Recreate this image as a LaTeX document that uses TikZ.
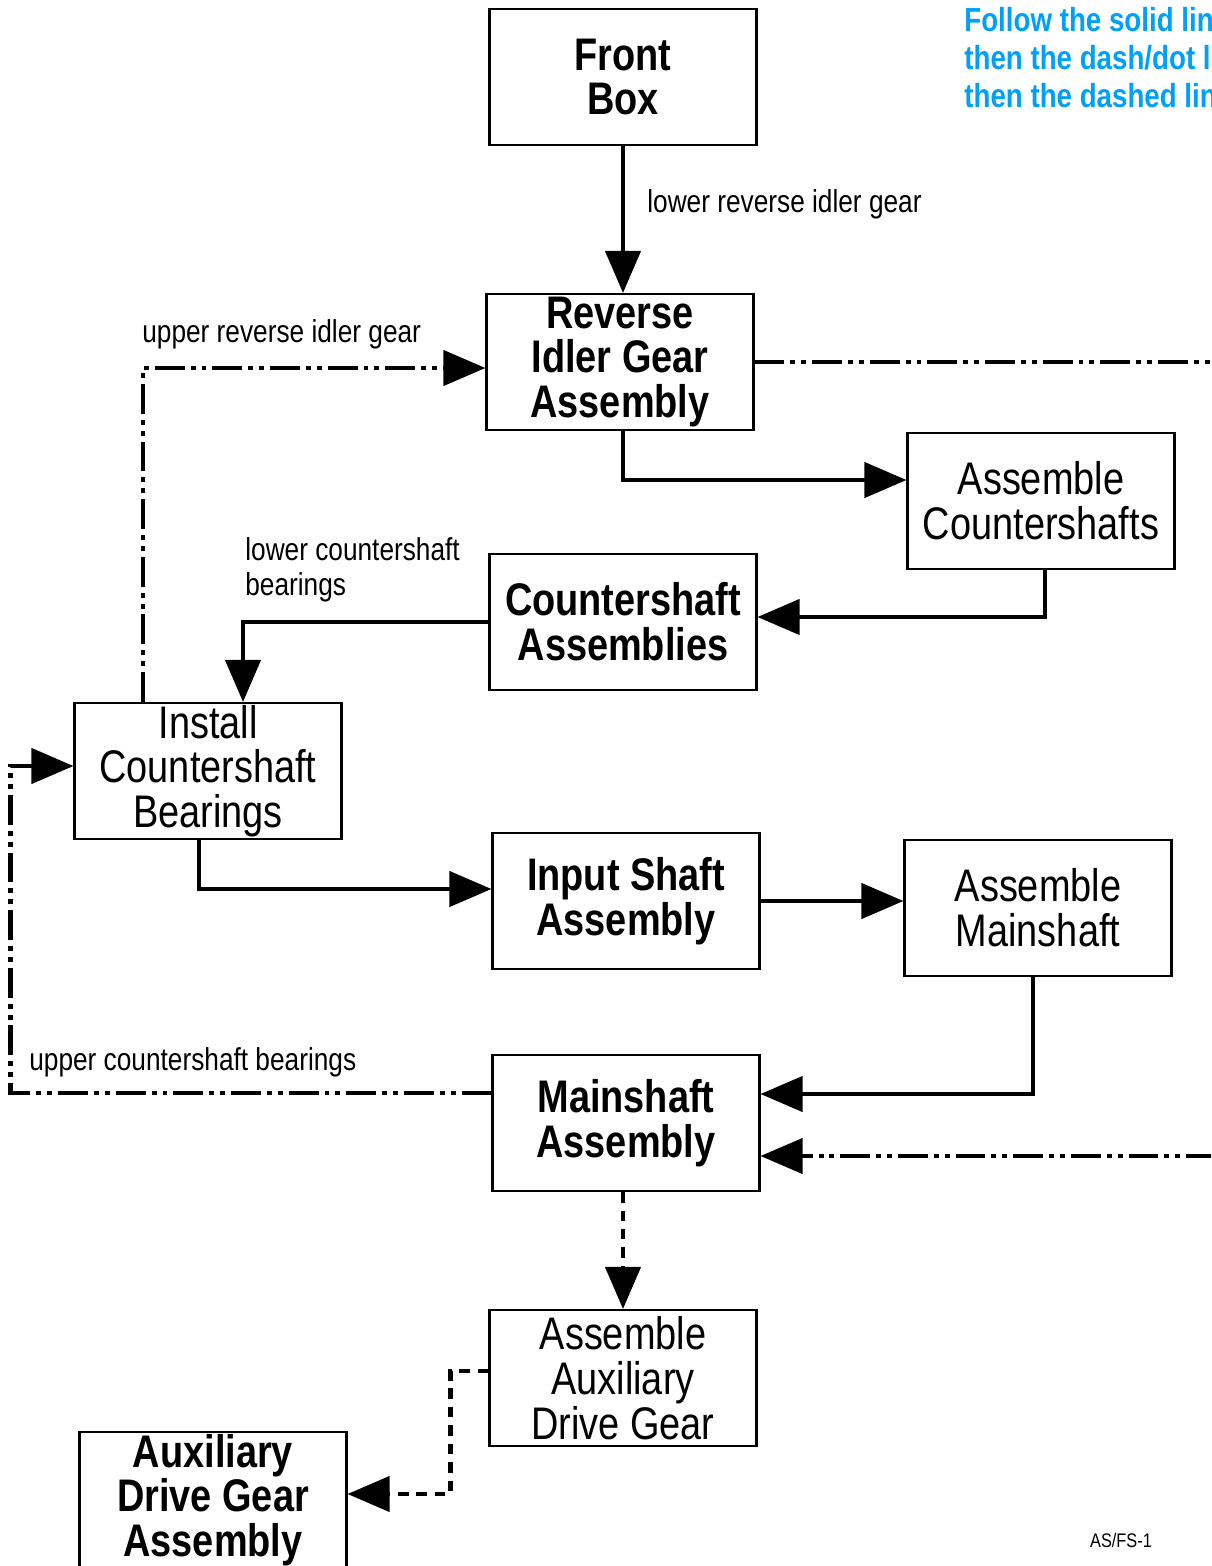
\documentclass[tikz,border=0pt]{standalone}
\usepackage{fontspec}
\setmainfont{Liberation Sans}[FakeStretch=0.83]
\usetikzlibrary{arrows.meta,calc}
\definecolor{notecyan}{RGB}{0,160,248}
\tikzset{
    box/.style={draw,line width=1.2pt,minimum width=5.34cm,minimum height=2.72cm,
        align=center,inner sep=0pt,font=\fontsize{26}{25.5}\selectfont},
    boldbox/.style={box,font=\fontsize{26}{25.5}\selectfont\bfseries},
    flow/.style={line width=2.4pt,-{Triangle[length=24pt,width=20pt]}},
    altflow/.style={flow,dash pattern=on 17pt off 3.4pt on 2.8pt off 3.4pt on 2.8pt off 3.4pt},
    lastflow/.style={flow,dash pattern=on 6pt off 4.5pt},
    note/.style={font=\fontsize{18}{19.8}\selectfont,anchor=west,align=left,inner sep=0pt}
}
\begin{document}
\begin{tikzpicture}[x=0.02cm,y=-0.02cm]
    \useasboundingbox (0,0) rectangle (1211,1566);
    \clip (0,0) rectangle (1211,1566);

    % Legend
    \node[anchor=west,align=left,inner sep=0pt,text=notecyan,
        font=\fontsize{19}{21.6}\selectfont\bfseries] (legend) at (964,58)
        {Follow the solid line\\then the dash/dot line\\then the dashed line};

    % Boxes
    \node[boldbox] (front) at (623,77) {Front\\Box};
    \node[boldbox] (rev) at (620,362) {Reverse\\Idler Gear\\Assembly};
    \node[box] (asmcs) at (1041,501) {Assemble\\Countershafts};
    \node[boldbox] (csa) at (623,622) {Countershaft\\Assemblies};
    \node[box] (icb) at (208,771) {Install\\Countershaft\\Bearings};
    \node[boldbox] (isa) at (626,901) {Input Shaft\\Assembly};
    \node[box] (asm) at (1038,908) {Assemble\\Mainshaft};
    \node[boldbox] (msa) at (626,1123) {Mainshaft\\Assembly};
    \node[box] (aadg) at (623,1378) {Assemble\\Auxiliary\\Drive Gear};
    \node[boldbox] (adga) at (213,1500) {Auxiliary\\Drive Gear\\Assembly};

    % Labels
    \node[note] (lrig) at (647,204) {lower reverse idler gear};
    \node[note] (urig) at (142,334) {upper reverse idler gear};
    \node[note] (lcb) at (245,570) {lower countershaft\\bearings};
    \node[note] (ucb) at (29,1062) {upper countershaft bearings};
    \node[font=\fontsize{11.2}{13}\selectfont] (ref) at (1121,1540) {AS/FS-1};

    % Solid line
    \draw[flow] (aadg.north |- front.south) -- (aadg.north |- rev.north);
    \draw[flow] ($(rev.south)+(3,0)$) |- ($(asmcs.west)+(0,-21)$);
    \draw[flow] ($(asmcs.south)+(4,0)$) |- ($(csa.east)+(0,-5)$);
    \draw[flow] (csa.west) -| ($(icb.north)+(35,0)$);
    \draw[flow] ($(icb.south)+(-9,0)$) |- ($(isa.west)+(0,-12)$);
    \draw[flow] (isa.east) -- (isa.east -| asm.west);
    \draw[flow] ($(asm.south)+(-5,0)$) |- ($(msa.east)+(0,-29)$);

    % Dash/dot line
    \coordinate (revout) at (1216,362);
    \coordinate (msain) at (1216,1156);
    \draw[altflow,-] (rev.east) -- (revout);
    \draw[altflow] (msain) -- (msain -| msa.east);
    \draw[altflow] ($(icb.north)+(-65,0)$) |- ($(rev.west)+(0,6)$);
    \draw[altflow] ($(msa.west)+(0,-30)$) -| ($(icb.west)+(-63,-5)$) -- ($(icb.west)+(0,-5)$);

    % Dashed line
    \draw[lastflow] (aadg.north |- msa.south) -- (aadg.north);
    \draw[lastflow] ($(aadg.west)+(0,-7)$) -| ($(adga.east)+(103,-6)$) -- ($(adga.east)+(0,-6)$);
\end{tikzpicture}
\end{document}
